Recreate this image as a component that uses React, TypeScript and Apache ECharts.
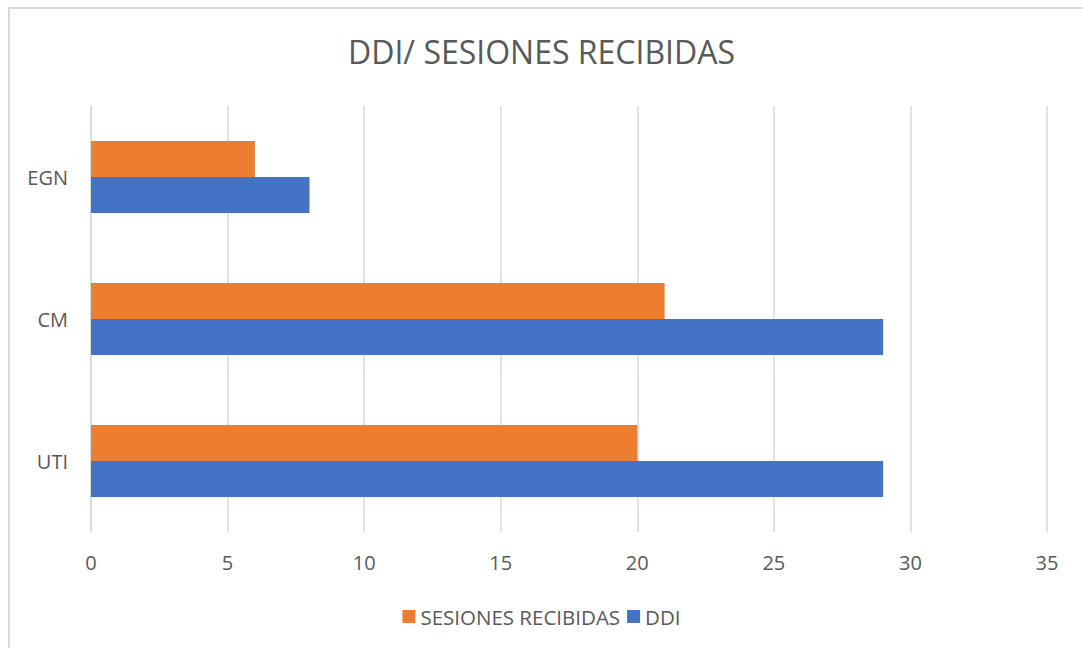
import React, { useEffect, useRef } from "react";
import * as echarts from "echarts";

const categories = ["UTI", "CM", "EGN"];
const ddi = [29, 29, 8];
const sesiones = [20, 21, 6];
const xTicks = { min: 0, max: 35, interval: 5 };

export default function App() {
  const ref = useRef<HTMLDivElement>(null);
  useEffect(() => {
    const chart = echarts.init(ref.current!, undefined, { renderer: "svg" });
    const font = "'Open Sans', 'Noto Sans', sans-serif";
    chart.setOption({
      animation: false,
      backgroundColor: "#ffffff",
      textStyle: { fontFamily: font },
      title: {
        text: "DDI/ SESIONES RECIBIDAS",
        left: "center",
        top: 30,
        textStyle: { fontFamily: font, fontSize: 32, fontWeight: "normal", color: "#595959" },
      },
      legend: {
        data: ["SESIONES RECIBIDAS", "DDI"],
        bottom: 16,
        left: "center",
        itemWidth: 13,
        itemHeight: 13,
        itemGap: 7,
        icon: "rect",
        textStyle: { fontFamily: font, fontSize: 20.5, color: "#595959" },
      },
      grid: { left: 91, right: 36, top: 106, bottom: 116, containLabel: false },
      xAxis: {
        type: "value",
        min: xTicks.min,
        max: xTicks.max,
        interval: xTicks.interval,
        axisLine: { show: false },
        axisTick: { show: false },
        axisLabel: { fontFamily: font, fontSize: 20, color: "#595959", margin: 20 },
        splitLine: { show: true, lineStyle: { color: "#D9D9D9", width: 1.5 } },
      },
      yAxis: {
        type: "category",
        data: categories,
        axisLine: { show: true, lineStyle: { color: "#D9D9D9", width: 1.5 } },
        axisTick: { show: false },
        axisLabel: { fontFamily: font, fontSize: 20, color: "#595959", margin: 23 },
      },
      series: [
        {
          name: "SESIONES RECIBIDAS",
          type: "bar",
          data: sesiones,
          barWidth: 36,
          barGap: "0%",
          itemStyle: { color: "#ED7D31" },
        },
        {
          name: "DDI",
          type: "bar",
          data: ddi,
          barWidth: 36,
          barGap: "0%",
          itemStyle: { color: "#4472C4" },
        },
      ],
      graphic: [
        {
          type: "rect",
          shape: { x: 9, y: 8, width: 1300, height: 900 },
          style: { fill: "none", stroke: "#D9D9D9", lineWidth: 2 },
          silent: true,
        },
      ],
    });
    return () => chart.dispose();
  }, []);
  return (
    <div
      ref={ref}
      style={{ position: "fixed", left: 0, top: 0, width: 1083, height: 648 }}
    />
  );
}
